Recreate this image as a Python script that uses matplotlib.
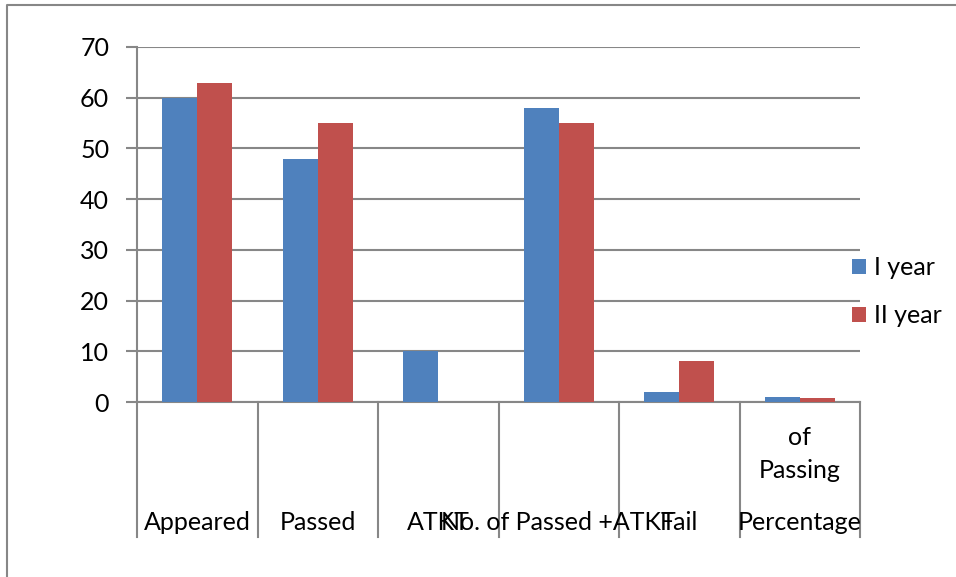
import matplotlib
matplotlib.use("Agg")
import matplotlib.pyplot as plt
import matplotlib.transforms as mtransforms
from matplotlib.lines import Line2D
import numpy as np

# exam results, values
categories = ["Appeared", "Passed", "ATKT", "No. of Passed +ATKT", "Fail", "Percentage of Passing"]
first_year = [60, 48, 10, 58, 2, 0.97]
second_year = [63, 55, 0, 55, 8, 0.87]
series_names = ["I year", "II year"]
y_ticks = [0, 10, 20, 30, 40, 50, 60, 70]

BLUE = "#4F81BD"
RED = "#C0504D"
GRAY = "#878787"
FS = 18

plt.rcParams["font.family"] = ["Lato", "DejaVu Sans"]

fig = plt.figure(figsize=(9.56, 5.77), dpi=100)
ax = fig.add_axes([137 / 956, 1 - 402 / 577, (860 - 137) / 956, (402 - 47) / 577])

x = np.arange(len(categories))
w = 0.29
ax.bar(x - w / 2, first_year, w, color=BLUE, label=series_names[0], zorder=3)
ax.bar(x + w / 2, second_year, w, color=RED, label=series_names[1], zorder=3)

ax.set_xlim(-0.5, len(categories) - 0.5)
ax.set_ylim(0, 70)
ax.set_yticks(y_ticks)
ax.tick_params(axis="y", length=8, width=1.5, color=GRAY, labelsize=FS, pad=12)
ax.set_xticks([])
ax.yaxis.grid(True, color=GRAY, linewidth=1.5, zorder=0)
for side in ["top", "right"]:
    ax.spines[side].set_visible(False)
for side in ["left", "bottom"]:
    ax.spines[side].set_color(GRAY)
    ax.spines[side].set_linewidth(1.5)

# category separators hanging below the axis
trans = mtransforms.blended_transform_factory(ax.transData, ax.transAxes)
for b in np.arange(len(categories) + 1) - 0.5:
    ax.plot([b, b], [0, -0.38], color=GRAY, linewidth=1.5, transform=trans, clip_on=False)

# category labels, bottom aligned like the original
label_y = -0.3606
for i, name in enumerate(categories):
    if name == "Percentage of Passing":
        ax.text(i, label_y, "Percentage", transform=trans, ha="center", va="baseline", fontsize=FS)
        ax.text(i, -0.214, "Passing", transform=trans, ha="center", va="baseline", fontsize=FS)
        ax.text(i, -0.121, "of", transform=trans, ha="center", va="baseline", fontsize=FS)
    else:
        ax.text(i, label_y, name, transform=trans, ha="center", va="baseline", fontsize=FS)

ax.legend(loc="upper left", bbox_to_anchor=(852 / 956, 1 - 256 / 577), bbox_transform=fig.transFigure,
          frameon=False, fontsize=FS, handlelength=0.55, handleheight=0.55, handletextpad=0.35,
          labelspacing=1.0, borderpad=0, borderaxespad=0)

# outer chart border (left and top visible)
fig.add_artist(Line2D([7 / 956, 7 / 956, 1], [0, 1 - 5 / 577, 1 - 5 / 577], color=GRAY,
                      linewidth=1.5, transform=fig.transFigure))

fig.savefig("out.png", dpi=100)
